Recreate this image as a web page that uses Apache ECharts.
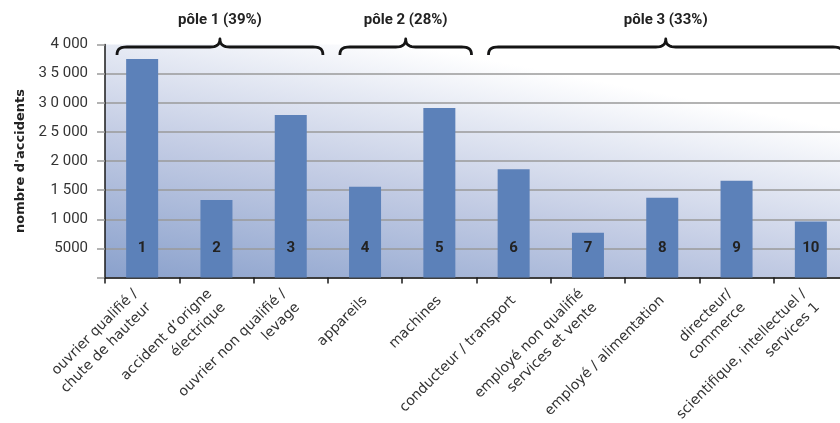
<!DOCTYPE html>
<html>
<head>
<meta charset="utf-8">
<script src="https://cdn.jsdelivr.net/npm/echarts@6/dist/echarts.min.js"></script>
<style>
  html, body { margin: 0; padding: 0; background: #ffffff; }
  #chart { width: 840px; height: 423px; }
</style>
</head>
<body>
<div id="chart"></div>
<script>
// Accident categories (x axis), accident counts and the number printed in each bar
const categories = [
  'ouvrier qualifié /\nchute de hauteur',
  'accident d\u2019origne\nélectrique',
  'ouvrier non qualifié /\nlevage',
  'appareils',
  'machines',
  'conducteur / transport',
  'employé non qualifié\nservices et vente',
  'employé / alimentation',
  'directeur/\ncommerce',
  'scientifique, intellectuel /\nservices 1'
];
const accidents = [3750, 1330, 2790, 1560, 2910, 1860, 770, 1370, 1660, 960];
const barNumbers = ['1', '2', '3', '4', '5', '6', '7', '8', '9', '10'];

// Value axis tick labels, one per 500 step from 0 to 4000
const yTickLabels = ['', '5000', '1 000', '1 500', '2 000', '2 5 000', '3 0 000', '3 5 000', '4 000'];

// Groups of categories ("pôles") shown with a brace above the bars
const poleNames = ['pôle 1 (39%)', 'pôle 2 (28%)', 'pôle 3 (33%)'];
const poleFirst = [0, 3, 5];
const poleLast = [2, 4, 9];

const chart = echarts.init(document.getElementById('chart'), null, { renderer: 'canvas' });

chart.setOption({
  animation: false,
  grid: {
    left: 105,
    top: 44.5,
    width: 743,
    height: 233,
    containLabel: false,
    outerBoundsMode: 'none',
    show: true,
    borderWidth: 0,
    backgroundColor: {
      type: 'linear', x: 0, y: 1, x2: 0.074, y2: -0.21,
      colorStops: [
        { offset: 0, color: '#8aa1cc' },
        { offset: 0.5, color: '#c3cce4' },
        { offset: 0.8, color: '#e6eaf4' },
        { offset: 1, color: '#ffffff' }
      ]
    }
  },
  xAxis: {
    type: 'category',
    data: categories,
    axisLine: { lineStyle: { color: '#1a1a1a', width: 1.5 } },
    axisTick: { show: true, length: 6, lineStyle: { color: '#1a1a1a', width: 1.5 } },
    axisLabel: {
      interval: 0,
      rotate: 45,
      margin: 21,
      fontFamily: 'DejaVu Sans',
      fontSize: 14,
      lineHeight: 19,
      color: '#333333'
    }
  },
  yAxis: {
    type: 'value',
    min: 0,
    max: 4000,
    interval: 500,
    name: 'nombre d\'accidents',
    nameLocation: 'middle',
    nameGap: 78,
    nameTextStyle: { fontFamily: 'DejaVu Sans', fontWeight: 'bold', fontSize: 13, color: '#222222' },
    axisLine: { show: true, lineStyle: { color: '#1a1a1a', width: 1.5 } },
    axisTick: { show: true, length: 8, lineStyle: { color: '#9a9a9a', width: 1.5 } },
    axisLabel: {
      margin: 17,
      fontFamily: 'Roboto',
      fontSize: 15,
      color: '#333333',
      formatter: function (v) { return yTickLabels[Math.round(v / 500)]; }
    },
    splitLine: { show: true, showMaxLine: false, lineStyle: { color: '#9a9a9a', width: 1.5 } }
  },
  series: [{
    type: 'bar',
    data: accidents,
    barWidth: 32,
    itemStyle: { color: '#5c81b9' },
    label: {
      show: true,
      position: 'insideBottom',
      distance: 22,
      fontFamily: 'Roboto',
      fontWeight: 'bold',
      fontSize: 15,
      color: '#222222',
      formatter: function (p) { return barNumbers[p.dataIndex]; }
    }
  }]
});

// Sample a cubic Bezier segment into points
function cubic(p0, p1, p2, p3, n, out) {
  for (let k = 1; k <= n; k++) {
    const t = k / n, s = 1 - t;
    out.push([
      s * s * s * p0[0] + 3 * s * s * t * p1[0] + 3 * s * t * t * p2[0] + t * t * t * p3[0],
      s * s * s * p0[1] + 3 * s * s * t * p1[1] + 3 * s * t * t * p2[1] + t * t * t * p3[1]
    ]);
  }
}

// Points of a curly brace spanning x1..x2, tip pointing up
function bracePoints(x1, x2) {
  const xm = (x1 + x2) / 2, yEnd = 55, yBar = 47, yTip = 39;
  const pts = [[x1, yEnd]];
  cubic([x1, yEnd], [x1, yBar + 2], [x1 + 3, yBar], [x1 + 10, yBar], 8, pts);
  pts.push([xm - 10, yBar]);
  cubic([xm - 10, yBar], [xm - 4, yBar], [xm, yBar - 2], [xm, yTip], 8, pts);
  cubic([xm, yTip], [xm, yBar - 2], [xm + 4, yBar], [xm + 10, yBar], 8, pts);
  pts.push([x2 - 10, yBar]);
  cubic([x2 - 10, yBar], [x2 - 3, yBar], [x2, yBar + 2], [x2, yEnd], 8, pts);
  return pts;
}

// Braces and titles over each group of categories, placed from the axis scale
const c0 = chart.convertToPixel({ xAxisIndex: 0 }, 0);
const c1 = chart.convertToPixel({ xAxisIndex: 0 }, 1);
const band = c1 - c0;
const graphics = [];
poleNames.forEach(function (name, i) {
  const left = chart.convertToPixel({ xAxisIndex: 0 }, poleFirst[i]) - band / 2 + 12;
  const right = chart.convertToPixel({ xAxisIndex: 0 }, poleLast[i]) + band / 2 - 5;
  graphics.push({
    type: 'polyline',
    shape: { points: bracePoints(left, right) },
    style: { fill: null, stroke: '#151515', lineWidth: 2.8, lineJoin: 'round' },
    silent: true
  });
  graphics.push({
    type: 'text',
    x: (left + right) / 2,
    y: 20,
    style: {
      text: name,
      fill: '#222222',
      font: 'bold 15px Roboto',
      textAlign: 'center',
      textVerticalAlign: 'middle'
    },
    silent: true
  });
});
chart.setOption({ graphic: graphics });
</script>
</body>
</html>
